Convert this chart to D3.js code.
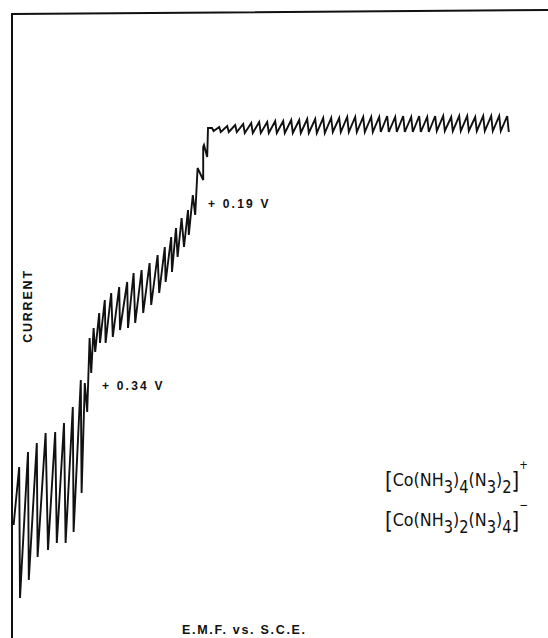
<!DOCTYPE html>
<html>
<head>
<meta charset="utf-8">
<script src="https://cdn.jsdelivr.net/npm/d3@7"></script>
<style>
body{margin:0;background:#fff;}
svg{display:block;}
.lbl{font-family:'Liberation Sans',Arial,sans-serif;font-weight:bold;fill:#111;}
.formula{font-family:'DejaVu Sans',sans-serif;fill:#111;}
</style>
</head>
<body>
<div id="chart"></div>
<script>
// peaks and troughs of the trace: potential E (volts vs S.C.E.) and current (arbitrary units)
// first wave, before +0.34 V
const wave1E = [0.428,0.421,0.420,0.410,0.409,0.399,0.398,0.388,0.385,0.376,0.374,0.365,0.363,0.354,0.353,0.344,0.343];
const wave1I = [1.13,1.71,0.40,1.86,0.58,1.95,0.81,2.05,0.88,2.06,0.95,2.15,0.95,2.31,1.06,2.58,1.45];
// second wave, +0.34 V to +0.19 V
const wave2E = [0.339,0.336,0.333,0.331,0.328,0.326,0.321,0.320,0.314,0.313,0.306,0.304,0.296,0.295,0.286,0.285,
	0.278,0.276,0.268,0.266,0.258,0.256,0.248,0.246,0.239,0.238,0.231,0.230,0.225,0.223,0.218,0.215,0.210,0.209,
	0.204,0.201,0.198,0.191,0.191,0.190,0.186,0.185];
const wave2I = [2.55,2.26,3.00,2.65,3.10,2.86,3.25,2.95,3.38,2.95,3.45,3.01,3.51,3.08,3.56,3.10,
	3.65,3.15,3.68,3.25,3.75,3.33,3.83,3.45,3.91,3.56,4.01,3.66,4.10,3.81,4.20,3.91,4.28,4.03,
	4.43,4.23,4.70,4.58,4.91,4.93,4.81,5.10];
// limiting current plateau
const plateauPeakE = [0.180,0.171,0.161,0.151,0.141,0.131,0.121,0.111,0.101,0.091,0.081,0.071,0.061,0.051,0.041,0.031,0.021,0.011,0.001,
	-0.009,-0.019,-0.029,-0.039,-0.049,-0.059,-0.069,-0.079,-0.089,-0.099,-0.109,-0.119,-0.129,-0.139,-0.149,-0.159,-0.169,-0.179,-0.189];
const plateauPeakI = [5.10,5.11,5.12,5.13,5.14,5.15,5.16,5.16,5.17,5.17,5.18,5.18,5.19,5.19,5.20,5.20,5.20,5.21,5.21,
	5.21,5.21,5.21,5.22,5.21,5.22,5.21,5.22,5.21,5.22,5.22,5.21,5.22,5.22,5.21,5.22,5.22,5.22,5.22];
const plateauLowI = [5.07,5.06,5.06,5.06,5.05,5.05,5.05,5.05,5.05,5.05,5.05,5.05,5.05,5.05,5.05,5.06,5.06,5.06,5.06,
	5.06,5.06,5.06,5.06,5.06,5.06,5.06,5.06,5.06,5.07,5.07,5.07,5.07,5.07,5.07,5.07,5.07,5.07,5.06];

const halfWaves = [{E:0.3175, i:2.48, text:'+ 0.34 V'}, {E:0.185, i:4.30, text:'+ 0.19 V'}];

const width = 548, height = 638;

const svg = d3.select('#chart').append('svg')
	.attr('width',width)
	.attr('height',height);

const scaleX = d3.scaleLinear().domain([0.43,-0.24]).range([12,548]);
const scaleY = d3.scaleLinear().domain([0,6.38]).range([638,0]);

// build the trace: wave vertices as read, plateau as peak then fall
const trace = [];
wave1E.forEach((e,k) => trace.push([e, wave1I[k]]));
wave2E.forEach((e,k) => trace.push([e, wave2I[k]]));
plateauPeakE.forEach((e,k) => {
	trace.push([e, plateauPeakI[k]]);
	trace.push([e - 0.002, plateauLowI[k]]);
});

//frame (recorder axis lines)
svg.append('path')
	.attr('d', `M${scaleX(0.43)},${scaleY(0)} L${scaleX(0.43)},${scaleY(6.24)} L${scaleX(-0.24)},${scaleY(6.28)}`)
	.style('fill','none')
	.style('stroke','#111')
	.style('stroke-width',2);

const line = d3.line()
	.x(d => scaleX(d[0]))
	.y(d => scaleY(d[1]));

svg.append('path')
	.datum(trace)
	.attr('d', line)
	.style('fill','none')
	.style('stroke','#111')
	.style('stroke-width',1.9)
	.style('stroke-linejoin','miter');

svg.selectAll('.hw')
	.data(halfWaves)
	.enter()
	.append('text')
	.attr('class','lbl hw')
	.attr('x', d => scaleX(d.E))
	.attr('y', d => scaleY(d.i))
	.style('font-size','12px')
	.style('letter-spacing','2.2px')
	.text(d => d.text);

svg.append('text')
	.attr('class','lbl')
	.attr('transform','translate(32,306) rotate(-90)')
	.attr('text-anchor','middle')
	.style('font-size','12.5px')
	.style('letter-spacing','1.8px')
	.text('CURRENT');

svg.append('text')
	.attr('class','lbl')
	.attr('x',182)
	.attr('y',634)
	.style('font-size','12.5px')
	.style('letter-spacing','1.7px')
	.text('E.M.F.  vs.  S.C.E.');

// formulas: level 0 = on the line, 1 = subscript, -1 = charge, 2 = bracket
const formulas = [
	{y:486, parts:[['[',2],['Co(NH',0],['3',1],[')',0],['4',1],['(N',0],['3',1],[')',0],['2',1],[']',2],['+',-1]]},
	{y:526, parts:[['[',2],['Co(NH',0],['3',1],[')',0],['2',1],['(N',0],['3',1],[')',0],['4',1],[']',2],['\u2212',-1]]}
];
const levelShift = {'0':0, '1':7, '-1':-17, '2':3};
const levelSize = {'0':'18.5px', '1':'17px', '-1':'12px', '2':'23px'};
formulas.forEach(f => {
	const t = svg.append('text')
		.attr('class','formula')
		.attr('x',385)
		.attr('y',f.y);
	let cur = 0;
	f.parts.forEach(p => {
		const target = levelShift[p[1]];
		t.append('tspan')
			.attr('dy', target - cur)
			.style('font-size', levelSize[p[1]])
			.text(p[0]);
		cur = target;
	});
	const bb = t.node().getBBox();
	const sx = 143 / bb.width;
	t.attr('transform', `translate(385,0) scale(${sx},1) translate(-385,0)`);
});
</script>
</body>
</html>
